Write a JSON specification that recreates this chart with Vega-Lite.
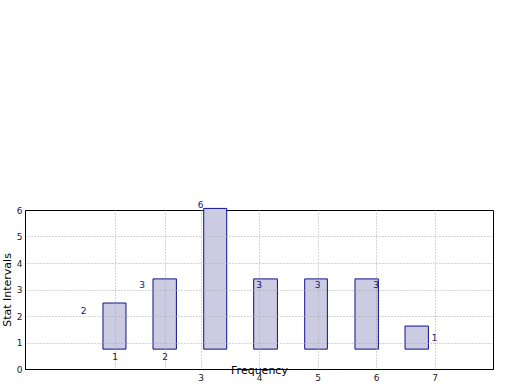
{
  "$schema": "https://vega.github.io/schema/vega-lite/v6.json",
  "width": 468,
  "height": 159,
  "autosize": {"type": "none"},
  "padding": {"left": 25, "top": 210, "right": 27, "bottom": 21},
  "background": "white",
  "config": {
    "view": {"stroke": "black", "strokeWidth": 1},
    "font": "DejaVu Sans"
  },
  "data": {
    "values": [
      {"pos": 1, "count": 2, "x1": 1.333, "x2": 1.726, "base": 0.75, "top": 2.49},
      {"pos": 2, "count": 3, "x1": 2.188, "x2": 2.588, "base": 0.75, "top": 3.4},
      {"pos": 3, "count": 6, "x1": 3.055, "x2": 3.448, "base": 0.75, "top": 6.06},
      {"pos": 4, "count": 3, "x1": 3.909, "x2": 4.315, "base": 0.75, "top": 3.4},
      {"pos": 5, "count": 3, "x1": 4.781, "x2": 5.169, "base": 0.75, "top": 3.4},
      {"pos": 6, "count": 3, "x1": 5.641, "x2": 6.041, "base": 0.75, "top": 3.4},
      {"pos": 7, "count": 1, "x1": 6.496, "x2": 6.896, "base": 0.75, "top": 1.62}
    ]
  },
  "layer": [
    {
      "mark": {"type": "bar", "fill": "#cbcbe2", "stroke": "#10108a", "strokeWidth": 1, "clip": false},
      "encoding": {
        "x": {
          "field": "x1", "type": "quantitative",
          "scale": {"domain": [0, 8], "nice": false, "zero": false},
          "axis": {
            "title": "Frequency",
            "titleFontSize": 11,
            "titleFontWeight": "normal",
            "titleColor": "black",
            "titleBaseline": "middle",
            "titleY": 1,
            "values": [1.53, 2.388, 3, 4, 5, 6, 7],
            "labelExpr": "datum.value < 2 ? '1' : datum.value < 3 ? '2' : format(datum.value, 'd')",
            "labelFontSize": 9,
            "labelColor": "#222222",
            "labelOverlap": false,
            "labelPadding": {"condition": {"test": "datum.value < 3", "value": -17}, "value": 4},
            "ticks": false,
            "domainColor": "black",
            "grid": true,
            "gridColor": "#aaaaaa",
            "gridDash": [1, 2],
            "zindex": 1
          }
        },
        "x2": {"field": "x2"},
        "y": {
          "field": "base", "type": "quantitative",
          "scale": {"domain": [0, 6], "nice": false},
          "axis": {
            "title": "Stat Intervals",
            "titleFontSize": 11,
            "titleFontWeight": "normal",
            "titleColor": "black",
            "titlePadding": 4,
            "values": [0, 1, 2, 3, 4, 5, 6],
            "format": "d",
            "labelFontSize": 9,
            "labelColor": "#222222",
            "labelPadding": 3,
            "labelOverlap": false,
            "labelFlush": false,
            "ticks": false,
            "domainColor": "black",
            "grid": true,
            "gridColor": "#aaaaaa",
            "gridDash": [1, 2],
            "gridOpacity": {"condition": {"test": "datum.value == 6 || datum.value == 0", "value": 0}, "value": 1},
            "zindex": 1
          }
        },
        "y2": {"field": "top"}
      }
    },
    {
      "mark": {"type": "text", "fontSize": 9, "color": "#10108a", "baseline": "bottom", "align": "center", "clip": false},
      "encoding": {
        "x": {
          "field": "pos", "type": "quantitative",
          "axis": {
            "title": "Frequency",
            "titleFontSize": 11,
            "titleFontWeight": "normal",
            "titleColor": "black",
            "titleBaseline": "middle",
            "titleY": 1,
            "values": [1.53, 2.388, 3, 4, 5, 6, 7],
            "labelExpr": "datum.value < 2 ? '1' : datum.value < 3 ? '2' : format(datum.value, 'd')",
            "labelFontSize": 9,
            "labelColor": "#222222",
            "labelOverlap": false,
            "labelPadding": {"condition": {"test": "datum.value < 3", "value": -17}, "value": 4},
            "ticks": false,
            "domainColor": "black",
            "grid": true,
            "gridColor": "#aaaaaa",
            "gridDash": [1, 2],
            "zindex": 1
          }
        },
        "y": {
          "field": "count", "type": "quantitative",
          "axis": {
            "title": "Stat Intervals",
            "titleFontSize": 11,
            "titleFontWeight": "normal",
            "titleColor": "black",
            "titlePadding": 4,
            "values": [0, 1, 2, 3, 4, 5, 6],
            "format": "d",
            "labelFontSize": 9,
            "labelColor": "#222222",
            "labelPadding": 3,
            "labelOverlap": false,
            "labelFlush": false,
            "ticks": false,
            "domainColor": "black",
            "grid": true,
            "gridColor": "#aaaaaa",
            "gridDash": [1, 2],
            "gridOpacity": {"condition": {"test": "datum.value == 6 || datum.value == 0", "value": 0}, "value": 1},
            "zindex": 1
          }
        },
        "text": {"field": "count", "type": "quantitative"}
      }
    }
  ]
}
